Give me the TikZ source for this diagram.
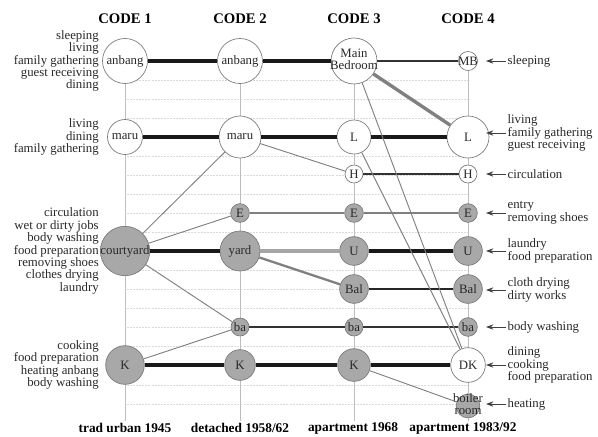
\documentclass[tikz,border=0pt]{standalone}
\usepackage{fontspec}
\setmainfont{Liberation Serif}
\usetikzlibrary{arrows.meta}
\pgfdeclarelayer{background}
\pgfsetlayers{background,main}

\definecolor{roomgray}{RGB}{168,168,168}
\definecolor{rimgray}{RGB}{120,120,120}
\definecolor{guidegray}{RGB}{190,190,190}
\definecolor{gridgray}{RGB}{218,218,218}
\definecolor{linkgray}{RGB}{128,128,128}
\definecolor{palegray}{RGB}{165,165,165}
\definecolor{inkgray}{RGB}{40,40,40}

% zero-width text so the circle keeps its own size
\newcommand{\zw}[1]{\makebox[0pt]{#1}}

\tikzset{
  room/.style={circle,draw=rimgray,line width=0.5pt,inner sep=0pt,minimum size=#1,
    text=inkgray,font=\fontsize{9.6}{9}\selectfont},
  dryroom/.style={room=#1,fill=white},
  wetroom/.style={room=#1,fill=roomgray},
  strong/.style={line width=2.6pt,black!90},
  medium/.style={line width=1.6pt,black!85},
  weak/.style={line width=0.8pt,black!80},
  greylink/.style={line width=1.7pt,linkgray},
  heavygrey/.style={line width=2.5pt,#1},
  faint/.style={line width=0.7pt,linkgray},
  useleft/.style={anchor=east,align=right,inner sep=0pt,text=inkgray,font=\fontsize{9.6}{9.3}\selectfont},
  useright/.style={anchor=west,align=left,inner sep=1pt,text=inkgray,font=\fontsize{9.6}{9.4}\selectfont},
  pointer/.style={line width=0.6pt,black!75,-{Stealth[length=5.5pt,width=4pt]}},
  codehead/.style={font=\fontsize{11}{13}\selectfont\bfseries,inner sep=0pt},
  housetype/.style={font=\fontsize{10}{12}\selectfont\bfseries,inner sep=0pt},
}

\begin{document}
\begin{tikzpicture}[x=0.75pt,y=0.75pt,yscale=-1,xscale=1]
\useasboundingbox (0,0) rectangle (598,436);

% Headers
\node[codehead] (codeA) at (125,19) {CODE 1};
\node[codehead] (codeB) at (240,19) {CODE 2};
\node[codehead] (codeC) at (354,19) {CODE 3};
\node[codehead] (codeD) at (468,19) {CODE 4};

% Footers
\node[housetype] (typeA) at (125,428) {trad urban 1945};
\node[housetype] (typeB) at (240,428) {detached 1958/62};
\node[housetype] (typeC) at (353,428) {apartment 1968};
\node[housetype] (typeD) at (463,428) {apartment 1983/92};

% Code 1
\node[dryroom=33.75pt] (anbangA) at (125,61) {\zw{anbang}};
\node[dryroom=26.25pt] (maruA) at (125,137) {\zw{maru}};
\node[wetroom=37pt] (courtyard) at (125,251) {\zw{courtyard}};
\node[wetroom=29pt] (kitA) at (125,365) {\zw{K}};

% Code 2
\node[dryroom=33.75pt] (anbangB) at (240,61) {\zw{anbang}};
\node[dryroom=31.5pt] (maruB) at (240,137) {\zw{maru}};
\node[wetroom=14pt] (entryB) at (240,213) {\zw{E}};
\node[wetroom=30pt] (yard) at (240,251) {\zw{yard}};
\node[wetroom=13.5pt] (bathB) at (240,327) {\zw{ba}};
\node[wetroom=23pt] (kitB) at (240,365) {\zw{K}};

% Code 3
\node[dryroom=34.5pt] (mainbed) at (354,61) {\zw{\begin{tabular}{@{}c@{}}Main\\[-1pt]Bedroom\end{tabular}}};
\node[dryroom=25.5pt] (livC) at (354,137) {\zw{L}};
\node[dryroom=13.5pt] (hallC) at (354,174) {\zw{H}};
\node[wetroom=14pt] (entryC) at (354,213) {\zw{E}};
\node[wetroom=21.5pt] (utilC) at (354,251) {\zw{U}};
\node[wetroom=21.5pt] (balC) at (354,289) {\zw{Bal}};
\node[wetroom=13.5pt] (bathC) at (354,327) {\zw{ba}};
\node[wetroom=24.5pt] (kitC) at (354,365) {\zw{K}};

% Code 4
\node[dryroom=14.25pt] (mbD) at (468,61) {\zw{MB}};
\node[dryroom=31.5pt] (livD) at (468,137) {\zw{L}};
\node[dryroom=13.5pt] (hallD) at (468,174) {\zw{H}};
\node[wetroom=14pt] (entryD) at (468,213) {\zw{E}};
\node[wetroom=21.5pt] (utilD) at (468,251) {\zw{U}};
\node[wetroom=21.5pt] (balD) at (468,289) {\zw{Bal}};
\node[wetroom=14pt] (bathD) at (468,327) {\zw{ba}};
\node[dryroom=26pt] (dkD) at (468,365) {\zw{DK}};
\node[wetroom=15pt] (boilerD) at (468,406) {\zw{\begin{tabular}{@{}c@{}}boiler\\[-0.5pt]room\end{tabular}}};

% Column ends
\coordinate (endA) at (125,421);
\coordinate (endB) at (240,421);
\coordinate (endC) at (354,421);
\coordinate (endD) at (468,421);
\coordinate (tipx) at (486,0);

% Grid and column lines
\begin{pgfonlayer}{background}
  \foreach \k in {1,...,18}
    \draw[gridgray,line width=0.5pt,dash pattern=on 1.5pt off 0.8pt] (127,61+19.05*\k) -- (470,61+19.05*\k);
  \draw[guidegray,line width=0.75pt] (anbangA.center) -- (endA);
  \draw[guidegray,line width=0.75pt] (anbangB.center) -- (endB);
  \draw[guidegray,line width=0.75pt] (mainbed.center) -- (endC);
  \draw[guidegray,line width=0.75pt] (mbD.center) -- (endD);
\end{pgfonlayer}

% Strong links
\draw[strong] (anbangA) -- (anbangB);
\draw[strong] (anbangB) -- (mainbed);
\draw[strong] (maruA) -- (maruB);
\draw[strong] (maruB) -- (livC);
\draw[strong] (livC) -- (livD);
\draw[strong] (courtyard) -- (yard);
\draw[strong] (utilC) -- (utilD);
\draw[strong] (kitA) -- (kitB);
\draw[strong] (kitB) -- (kitC);
\draw[strong] (kitC) -- (dkD);
\draw[medium] (balC) -- (balD);

% Weak links
\draw[weak] (mainbed) -- (mbD);
\draw[weak] (hallC) -- (hallD);
\draw[weak] (bathB) -- (bathC);
\draw[weak] (bathC) -- (bathD);

% Grey links
\draw[greylink] (entryB) -- (entryC);
\draw[greylink] (entryC) -- (entryD);
\draw[greylink] (yard) -- (balC);
\draw[heavygrey=palegray] (yard) -- (utilC);
\draw[heavygrey=linkgray] (mainbed) -- (livD);

% Faint links
\draw[faint] (maruB) -- (courtyard);
\draw[faint] (maruB) -- (hallC);
\draw[faint] (courtyard) -- (entryB);
\draw[faint] (courtyard) -- (bathB);
\draw[faint] (kitA) -- (bathB);
\draw[faint] (kitC) -- (boilerD);
\draw[faint] (mainbed) -- (dkD);
\draw[faint] (livC) -- (dkD);

% Left Text Nodes
\node[useleft] (lblAnbang) at (99,61) {sleeping\\living\\family gathering\\guest receiving\\dining};
\node[useleft] (lblMaru) at (99,137) {living\\dining\\family gathering};
\node[useleft] (lblCourt) at (99,251) {circulation\\wet or dirty jobs\\body washing\\food preparation\\removing shoes\\clothes drying\\laundry};
\node[useleft] (lblKit) at (99,365) {cooking\\food preparation\\heating anbang\\body washing};

% Right Text Nodes
\node[useright] (lblMB) at (506,61) {sleeping};
\node[useright] (lblLiv) at (506,133) {living\\family gathering\\guest receiving};
\node[useright] (lblHall) at (506,174) {circulation};
\node[useright] (lblEntry) at (506,213) {entry\\removing shoes};
\node[useright] (lblUtil) at (506,251) {laundry\\food preparation};
\node[useright] (lblBal) at (506,290) {cloth drying\\dirty works};
\node[useright] (lblBath) at (506,327) {body washing};
\node[useright] (lblDK) at (506,365) {dining\\cooking\\food preparation};
\node[useright] (lblBoiler) at (506,404) {heating};

% Pointers
\foreach \n in {lblMB,lblLiv,lblHall,lblEntry,lblUtil,lblBal,lblBath,lblDK,lblBoiler}
  \draw[pointer] (\n.west) -- (\n.west -| tipx);
\end{tikzpicture}
\end{document}
